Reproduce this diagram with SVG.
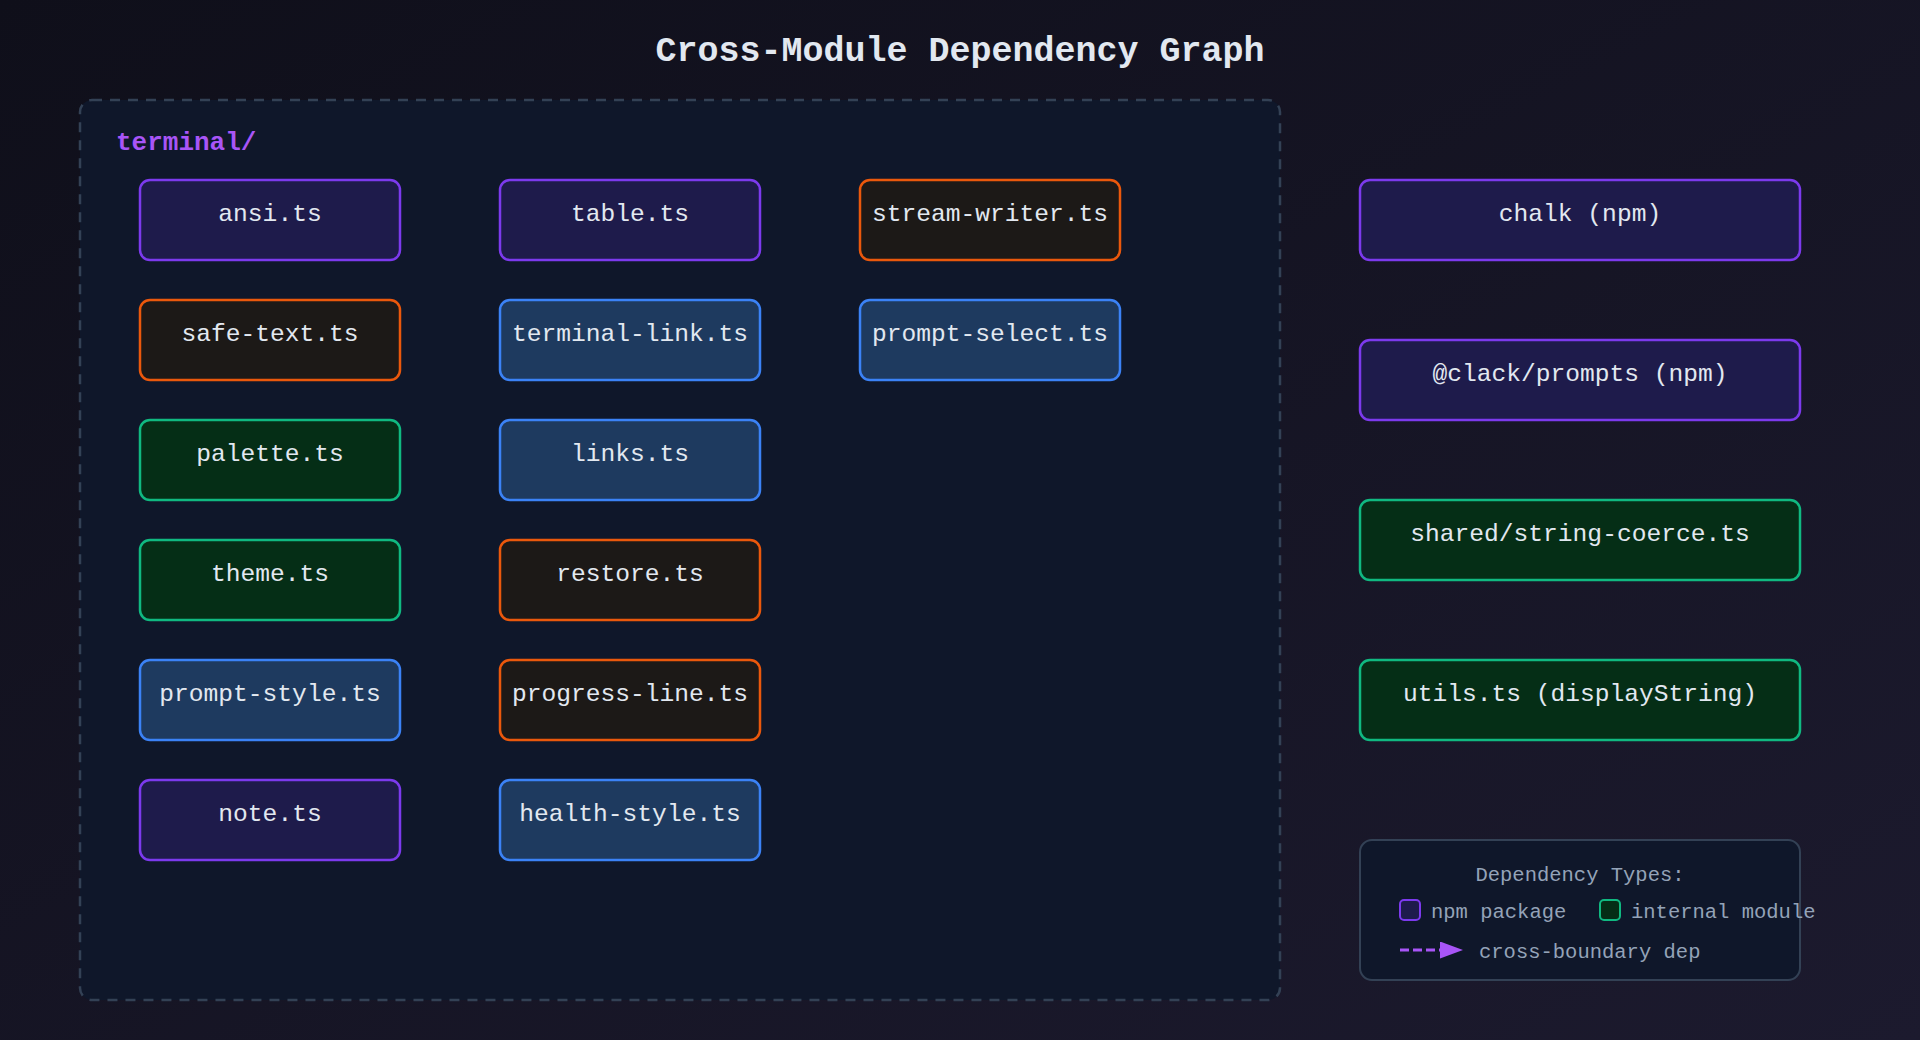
<svg xmlns="http://www.w3.org/2000/svg" width="1920" height="1040" viewBox="0 0 1920 1040">
  <defs>
    <linearGradient id="bg" x1="0" y1="0" x2="1" y2="1">
      <stop offset="0" stop-color="#0f0f1a"/>
      <stop offset="1" stop-color="#1c1a2e"/>
    </linearGradient>
    <marker id="arrowHead" markerUnits="userSpaceOnUse" markerWidth="24" markerHeight="17" refX="0" refY="8.5" orient="auto">
      <path d="M0,0 L23,8.5 L0,17 Z" fill="#a855f7"/>
    </marker>
    <style>
      .mono { font-family: "Liberation Mono", "DejaVu Sans Mono", monospace; }
      .title { font-size: 35px; font-weight: bold; fill: #e2e8f0; }
      .group-label { font-size: 26px; font-weight: bold; fill: #a855f7; }
      .lbl { font-size: 24.6px; fill: #e2e8f0; text-anchor: middle; }
      .npm rect { fill: #1e1b4b; stroke: #7c3aed; stroke-width: 2.5; }
      .side rect { fill: #1c1917; stroke: #ea580c; stroke-width: 2.5; }
      .internal rect { fill: #052e16; stroke: #10b981; stroke-width: 2.5; }
      .ui rect { fill: #1e3a5f; stroke: #3b82f6; stroke-width: 2.5; }
      .legend-text { font-size: 20.5px; fill: #94a3b8; }
    </style>
  </defs>

  <rect x="0" y="0" width="1920" height="1040" fill="url(#bg)"/>

  <text class="mono title" x="960" y="61" text-anchor="middle">Cross-Module Dependency Graph</text>

  <g id="terminal-group">
    <rect x="80" y="100" width="1200" height="900" rx="12" fill="#0f172a" stroke="#334155" stroke-width="2.5" stroke-dasharray="10 8"/>
    <text class="mono group-label" x="116" y="150">terminal/</text>
  </g>

  <g id="node-ansi" class="npm"><rect x="140" y="180" width="260" height="80" rx="10"/><text class="mono lbl" x="270" y="221">ansi.ts</text></g>
  <g id="node-safe-text" class="side"><rect x="140" y="300" width="260" height="80" rx="10"/><text class="mono lbl" x="270" y="341">safe-text.ts</text></g>
  <g id="node-palette" class="internal"><rect x="140" y="420" width="260" height="80" rx="10"/><text class="mono lbl" x="270" y="461">palette.ts</text></g>
  <g id="node-theme" class="internal"><rect x="140" y="540" width="260" height="80" rx="10"/><text class="mono lbl" x="270" y="581">theme.ts</text></g>
  <g id="node-prompt-style" class="ui"><rect x="140" y="660" width="260" height="80" rx="10"/><text class="mono lbl" x="270" y="701">prompt-style.ts</text></g>
  <g id="node-note" class="npm"><rect x="140" y="780" width="260" height="80" rx="10"/><text class="mono lbl" x="270" y="821">note.ts</text></g>

  <g id="node-table" class="npm"><rect x="500" y="180" width="260" height="80" rx="10"/><text class="mono lbl" x="630" y="221">table.ts</text></g>
  <g id="node-terminal-link" class="ui"><rect x="500" y="300" width="260" height="80" rx="10"/><text class="mono lbl" x="630" y="341">terminal-link.ts</text></g>
  <g id="node-links" class="ui"><rect x="500" y="420" width="260" height="80" rx="10"/><text class="mono lbl" x="630" y="461">links.ts</text></g>
  <g id="node-restore" class="side"><rect x="500" y="540" width="260" height="80" rx="10"/><text class="mono lbl" x="630" y="581">restore.ts</text></g>
  <g id="node-progress-line" class="side"><rect x="500" y="660" width="260" height="80" rx="10"/><text class="mono lbl" x="630" y="701">progress-line.ts</text></g>
  <g id="node-health-style" class="ui"><rect x="500" y="780" width="260" height="80" rx="10"/><text class="mono lbl" x="630" y="821">health-style.ts</text></g>

  <g id="node-stream-writer" class="side"><rect x="860" y="180" width="260" height="80" rx="10"/><text class="mono lbl" x="990" y="221">stream-writer.ts</text></g>
  <g id="node-prompt-select" class="ui"><rect x="860" y="300" width="260" height="80" rx="10"/><text class="mono lbl" x="990" y="341">prompt-select.ts</text></g>

  <g id="node-chalk" class="npm"><rect x="1360" y="180" width="440" height="80" rx="10"/><text class="mono lbl" x="1580" y="221">chalk (npm)</text></g>
  <g id="node-clack-prompts" class="npm"><rect x="1360" y="340" width="440" height="80" rx="10"/><text class="mono lbl" x="1580" y="381">@clack/prompts (npm)</text></g>
  <g id="node-string-coerce" class="internal"><rect x="1360" y="500" width="440" height="80" rx="10"/><text class="mono lbl" x="1580" y="541">shared/string-coerce.ts</text></g>
  <g id="node-utils" class="internal"><rect x="1360" y="660" width="440" height="80" rx="10"/><text class="mono lbl" x="1580" y="701">utils.ts (displayString)</text></g>

  <g id="connectors"></g>

  <g id="legend">
    <rect x="1360" y="840" width="440" height="140" rx="12" fill="#0f172a" stroke="#334155" stroke-width="2"/>
    <text class="mono legend-text" x="1580" y="881" text-anchor="middle">Dependency Types:</text>
    <rect x="1400" y="900" width="20" height="20" rx="4" fill="#1e1b4b" stroke="#7c3aed" stroke-width="2"/>
    <text class="mono legend-text" x="1431" y="918">npm package</text>
    <rect x="1600" y="900" width="20" height="20" rx="4" fill="#052e16" stroke="#10b981" stroke-width="2"/>
    <text class="mono legend-text" x="1631" y="918">internal module</text>
    <line x1="1400" y1="950" x2="1440" y2="950" stroke="#a855f7" stroke-width="3" stroke-dasharray="9 4" marker-end="url(#arrowHead)"/>
    <text class="mono legend-text" x="1479" y="958">cross-boundary dep</text>
  </g>
</svg>
